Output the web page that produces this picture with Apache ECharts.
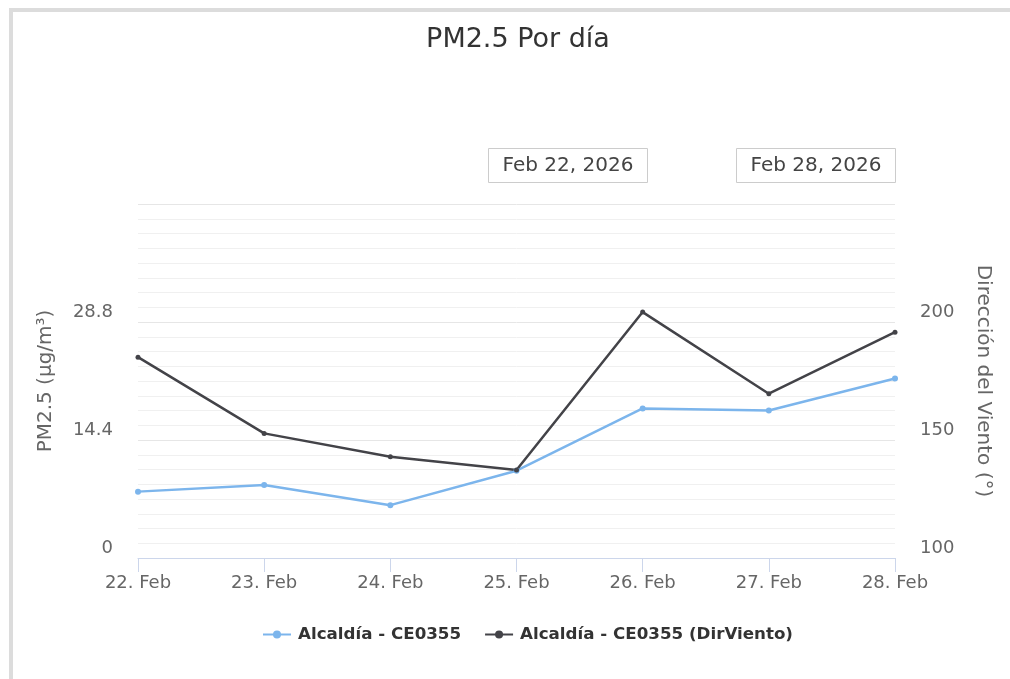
<!DOCTYPE html>
<html>
<head>
<meta charset="utf-8">
<script src="https://cdn.jsdelivr.net/npm/echarts@6/dist/echarts.min.js"></script>
<style>
html,body{margin:0;padding:0;background:#fff;}
#chart{width:1010px;height:679px;}
</style>
</head>
<body>
<div id="chart"></div>
<script>
const categories = ['22. Feb','23. Feb','24. Feb','25. Feb','26. Feb','27. Feb','28. Feb'];
const pm25 = [8.1, 8.9, 6.45, 10.65, 18.25, 18.0, 21.9];
const dirViento = [185.1, 152.8, 142.9, 137.3, 204.2, 169.6, 195.7];
const seriesNames = ['Alcaldía - CE0355', 'Alcaldía - CE0355 (DirViento)'];
const rangeLabels = ['Feb 22, 2026', 'Feb 28, 2026'];

const font = '"DejaVu Sans", sans-serif';
const chart = echarts.init(document.getElementById('chart'));
chart.setOption({
  backgroundColor: '#fff',
  animation: false,
  textStyle: { fontFamily: font },
  title: {
    text: 'PM2.5 Por día',
    left: 513,
    textAlign: 'center',
    top: 21,
    textStyle: { fontFamily: font, fontSize: 27, fontWeight: 'normal', color: '#333' }
  },
  legend: {
    bottom: 31,
    left: 257,
    itemGap: 23,
    itemWidth: 28,
    itemHeight: 10,
    data: seriesNames,
    textStyle: { fontFamily: font, fontSize: 16.7, fontWeight: 'bold', color: '#333', padding: [0, 0, 0, 2] }
  },
  graphic: [
    { type: 'rect', shape: { x: 11, y: 10, width: 1100, height: 700 }, style: { fill: 'none', stroke: '#dcdcdc', lineWidth: 4 }, silent: true },
    { type: 'rect', shape: { x: 488.5, y: 148.5, width: 159, height: 34 }, style: { fill: '#fff', stroke: '#cccccc', lineWidth: 1 }, silent: true },
    { type: 'text', x: 568, y: 165.5, style: { text: rangeLabels[0], fill: '#444', font: '20px "DejaVu Sans"', align: 'center', verticalAlign: 'middle' }, silent: true },
    { type: 'rect', shape: { x: 736.5, y: 148.5, width: 159, height: 34 }, style: { fill: '#fff', stroke: '#cccccc', lineWidth: 1 }, silent: true },
    { type: 'text', x: 816, y: 165.5, style: { text: rangeLabels[1], fill: '#444', font: '20px "DejaVu Sans"', align: 'center', verticalAlign: 'middle' }, silent: true }
  ],
  grid: { left: 138, right: 115, top: 204, bottom: 121, containLabel: false },
  xAxis: {
    type: 'category',
    data: categories,
    boundaryGap: false,
    axisLine: { show: true, lineStyle: { color: '#ccd6eb', width: 1 } },
    axisTick: { show: true, length: 14, lineStyle: { color: '#ccd6eb' } },
    axisLabel: { color: '#666', fontSize: 18, fontFamily: font, margin: 16 },
    splitLine: { show: false }
  },
  yAxis: [
    {
      type: 'value',
      min: 0, max: 43.2, interval: 14.4,
      name: 'PM2.5 (µg/m³)',
      nameLocation: 'middle',
      nameGap: 82,
      nameRotate: 90,
      nameTextStyle: { color: '#666', fontSize: 20, fontFamily: font },
      axisLine: { show: false },
      axisTick: { show: false },
      axisLabel: { color: '#666', fontSize: 18, fontFamily: font, margin: 25, showMaxLabel: false, verticalAlign: 'bottom', padding: [0, 0, 1, 0] },
      splitLine: { show: true, lineStyle: { color: '#e6e6e6', width: 1 } },
      minorTick: { show: false, splitNumber: 8 },
      minorSplitLine: { show: true, lineStyle: { color: '#f0f0f0', width: 1 } }
    },
    {
      type: 'value',
      min: 100, max: 250, interval: 50,
      name: 'Dirección del Viento (°)',
      nameLocation: 'middle',
      nameGap: 78,
      nameRotate: -90,
      nameTextStyle: { color: '#666', fontSize: 20, fontFamily: font },
      axisLine: { show: false },
      axisTick: { show: false },
      axisLabel: { color: '#666', fontSize: 18, fontFamily: font, margin: 25, showMaxLabel: false, verticalAlign: 'bottom', padding: [0, 0, 1, 0] },
      splitLine: { show: false }
    }
  ],
  series: [
    {
      name: seriesNames[0],
      type: 'line',
      yAxisIndex: 0,
      data: pm25,
      color: '#7cb5ec',
      symbol: 'circle',
      symbolSize: 6,
      showSymbol: true,
      lineStyle: { width: 2.5, color: '#7cb5ec' },
      itemStyle: { color: '#7cb5ec' }
    },
    {
      name: seriesNames[1],
      type: 'line',
      yAxisIndex: 1,
      data: dirViento,
      color: '#434348',
      symbol: 'circle',
      symbolSize: 5,
      showSymbol: true,
      lineStyle: { width: 2.5, color: '#434348' },
      itemStyle: { color: '#434348' }
    }
  ]
});
</script>
</body>
</html>
